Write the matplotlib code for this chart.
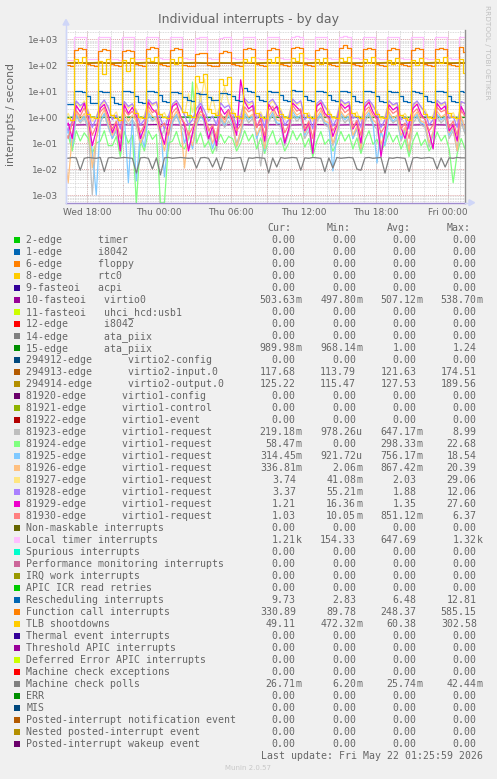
import numpy as np
import pandas as pd
import matplotlib
matplotlib.use('Agg')
import matplotlib.pyplot as plt
import matplotlib.dates as mdates
from matplotlib.ticker import LogLocator, FuncFormatter, NullFormatter, FixedLocator
from matplotlib.patches import Rectangle, Polygon
from matplotlib.lines import Line2D

W, H = 497, 779

# 20 minute samples, Wed 16:07 -> Fri 01:27
times = pd.date_range('2026-05-20 16:07', periods=101, freq='20min')
# hourly samples for the flat series
hours = pd.date_range('2026-05-20 16:00', periods=35, freq='h')

# flat series (hourly)
virtio0 = [0.51, 0.50, 0.51, 0.50, 0.51, 0.51, 0.50, 0.51, 0.52, 0.51, 0.50, 0.51,
           0.51, 0.50, 0.51, 0.51, 0.50, 0.51, 0.51, 0.50, 0.51, 0.52, 0.51, 0.50,
           0.51, 0.51, 0.50, 0.51, 0.51, 0.50, 0.51, 0.51, 0.50, 0.51, 0.50]
ata_piix15 = [1.00, 0.99, 1.01, 1.00, 0.99, 1.00, 1.01, 1.00, 0.99, 1.00, 1.01, 1.00,
              0.99, 1.00, 1.00, 1.01, 0.99, 1.00, 1.00, 1.01, 0.99, 1.00, 1.00, 1.01,
              1.00, 0.99, 1.00, 1.01, 1.00, 0.99, 1.00, 1.00, 1.01, 0.99, 0.99]
virtio2_in = [118, 121, 119, 122, 118, 121, 119, 122, 118, 120, 119, 121,
              118, 120, 119, 122, 118, 121, 119, 122, 118, 121, 119, 122,
              118, 121, 119, 122, 118, 121, 119, 122, 118, 120, 118]
virtio2_out = [124, 128, 125, 129, 124, 128, 125, 129, 124, 127, 125, 128,
               124, 127, 125, 129, 124, 128, 125, 129, 124, 128, 125, 129,
               124, 128, 125, 129, 124, 128, 125, 129, 124, 127, 125]

# 20 minute series
v81923 = [0.2, 0.4, 0.06, 1.1, 0.6, 0.9, 0.35, 0.001, 0.15, 0.6, 1.3, 0.4,
          0.15, 0.3, 0.04, 0.9, 0.5, 0.8, 0.45, 0.08, 0.2, 1.2, 0.7, 0.9,
          0.15, 0.35, 0.05, 0.6, 1.1, 0.5, 0.3, 0.06, 0.2, 0.5, 8.99, 0.4,
          0.12, 0.3, 0.05, 0.8, 0.4, 0.7, 0.4, 0.07, 0.2, 1.1, 0.6, 0.9,
          0.2, 0.013, 0.15, 0.7, 1.2, 0.5, 0.45, 0.08, 0.25, 1.2, 0.7, 1.0,
          0.15, 0.3, 0.05, 0.7, 1.1, 0.5, 0.4, 0.08, 0.2, 1.1, 0.6, 0.9,
          0.15, 0.35, 0.05, 0.7, 1.2, 0.5, 0.35, 0.06, 0.2, 1.0, 0.6, 0.8,
          0.12, 0.3, 0.04, 0.6, 1.0, 0.5, 0.4, 0.07, 0.2, 1.0, 0.6, 0.9,
          0.15, 0.3, 0.05, 0.6, 0.22]
v81924 = [0.1, 0.2, 0.05, 0.3, 0.12, 0.25, 0.15, 0.04, 0.1, 0.12, 0.3, 0.08,
          0.08, 0.18, 0.03, 0.28, 0.1, 0.2, 0.0005, 0.12, 0.05, 0.3, 0.14, 0.22,
          0.0005, 0.0005, 0.1, 0.12, 0.28, 0.08, 0.06, 0.15, 22.68, 0.1, 0.25, 0.07,
          0.12, 0.04, 0.09, 0.22, 0.1, 0.18, 0.15, 0.05, 0.1, 0.3, 0.12, 0.22,
          0.06, 0.16, 0.04, 0.14, 0.3, 0.09, 0.16, 0.05, 0.1, 0.3, 0.13, 0.24,
          0.07, 0.15, 0.03, 0.12, 0.28, 0.09, 0.14, 0.05, 0.1, 0.28, 0.12, 0.22,
          0.06, 0.16, 0.04, 0.13, 0.3, 0.09, 0.14, 0.05, 0.09, 0.26, 0.11, 0.2,
          0.06, 0.14, 0.03, 0.12, 0.26, 0.08, 0.14, 0.05, 0.09, 0.27, 0.12, 0.2,
          0.06, 0.003, 0.04, 0.15, 0.058]
v81925 = [0.15, 0.3, 0.08, 1.3, 0.7, 1.1, 0.5, 0.05, 0.001, 0.7, 1.4, 0.5,
          0.15, 0.35, 0.06, 1.1, 0.003, 0.9, 0.0035, 0.25, 0.07, 1.5, 0.8, 1.1,
          0.5, 0.005, 0.2, 0.7, 1.3, 0.5, 0.1, 0.3, 0.06, 0.5, 1.1, 0.7,
          0.35, 0.06, 0.2, 1.0, 0.5, 1.2, 0.5, 0.1, 0.25, 1.4, 0.8, 1.1,
          0.15, 0.4, 0.05, 0.8, 1.5, 0.6, 0.55, 0.1, 0.3, 1.6, 0.9, 1.2,
          0.2, 0.45, 0.05, 0.8, 1.4, 0.6, 0.5, 0.0085, 0.25, 1.4, 0.8, 1.1,
          0.15, 0.4, 0.06, 0.9, 1.5, 0.6, 0.017, 0.3, 0.08, 1.3, 0.7, 1.0,
          0.15, 0.35, 0.05, 0.8, 1.3, 0.6, 0.5, 0.1, 0.25, 1.3, 0.8, 1.0,
          0.2, 0.4, 0.05, 0.9, 0.31]
v81926 = [0.05, 0.003, 0.2, 1.6, 0.8, 1.4, 0.6, 0.011, 0.15, 1.0, 1.9, 0.6,
          0.2, 0.4, 0.05, 1.4, 0.7, 1.2, 0.7, 0.1, 0.25, 1.9, 1.1, 0.9,
          0.25, 0.05, 0.3, 0.9, 1.7, 0.7, 0.011, 0.3, 0.08, 0.6, 1.3, 0.9,
          0.4, 0.1, 0.25, 1.2, 0.6, 1.5, 0.6, 0.08, 0.3, 1.8, 1.0, 1.3,
          0.2, 0.45, 0.06, 1.1, 1.9, 0.8, 0.7, 0.12, 0.3, 2.0, 1.2, 1.5,
          0.25, 0.5, 0.05, 1.0, 1.8, 0.7, 0.6, 0.1, 0.3, 1.7, 1.0, 1.4,
          0.2, 0.45, 0.06, 1.2, 1.9, 0.8, 0.55, 0.09, 0.25, 1.6, 0.9, 1.2,
          0.2, 0.4, 0.05, 1.0, 1.6, 0.7, 0.6, 0.1, 0.28, 1.7, 1.0, 1.3,
          0.25, 0.45, 0.05, 1.1, 0.34]
v81927 = [0.8, 1.4, 0.6, 3.8, 2.4, 4.2, 1.9, 0.7, 1.1, 2.5, 4.0, 2.1,
          1.0, 1.6, 0.6, 3.6, 2.2, 3.0, 2.0, 0.8, 1.2, 4.4, 2.8, 3.6,
          1.1, 1.5, 0.7, 2.6, 4.1, 2.3, 1.2, 8.0, 1.5, 20.0, 4.0, 29.06,
          1.5, 6.0, 1.2, 3.0, 15.0, 3.5, 2.0, 0.8, 1.3, 4.5, 2.9, 3.8,
          1.0, 1.6, 0.7, 2.8, 4.3, 2.4, 2.1, 0.8, 1.2, 4.6, 3.0, 3.8,
          1.0, 1.5, 0.7, 2.7, 4.2, 2.3, 2.0, 0.8, 1.2, 4.4, 2.9, 3.6,
          1.1, 1.6, 0.7, 2.8, 4.3, 2.4, 1.9, 0.8, 1.1, 4.1, 2.7, 3.4,
          1.0, 1.4, 0.7, 2.6, 4.0, 2.2, 2.0, 0.8, 1.2, 4.3, 2.8, 3.5,
          1.0, 1.5, 0.7, 3.5, 3.74]
v81928 = [0.5, 0.3, 0.7, 4.2, 2.8, 3.6, 1.5, 0.4, 0.9, 3.0, 4.6, 2.4,
          0.8, 1.2, 0.35, 4.0, 2.6, 3.3, 1.6, 0.5, 0.8, 4.8, 3.2, 3.9,
          0.9, 0.35, 1.1, 3.2, 4.4, 2.5, 1.2, 0.5, 0.8, 2.2, 3.4, 1.8,
          0.7, 1.1, 0.5, 3.6, 2.3, 2.9, 1.4, 0.4, 0.9, 5.2, 3.6, 4.2,
          0.9, 1.3, 0.4, 3.8, 4.9, 2.8, 1.6, 0.5, 0.8, 5.0, 3.4, 4.3,
          0.8, 1.2, 0.35, 3.4, 4.6, 2.6, 1.5, 0.45, 0.9, 4.8, 3.3, 4.0,
          0.9, 1.1, 0.4, 3.5, 4.7, 2.9, 1.4, 0.4, 0.8, 4.3, 3.0, 3.6,
          0.8, 1.0, 0.35, 3.1, 4.2, 2.5, 1.5, 0.5, 0.8, 4.5, 3.2, 3.9,
          0.9, 1.1, 0.4, 4.0, 3.37]
v81929 = [0.35, 0.6, 0.15, 2.8, 1.6, 3.4, 0.9, 0.08, 0.3, 2.2, 3.1, 1.2,
          0.25, 0.6, 0.05, 3.0, 1.4, 2.4, 1.1, 0.15, 0.4, 3.8, 2.0, 1.5,
          0.3, 0.09, 0.6, 2.6, 3.4, 1.1, 0.5, 0.05, 0.25, 1.2, 2.6, 0.8,
          0.15, 0.45, 0.08, 2.4, 1.3, 2.0, 0.7, 0.2, 27.6, 4.0, 2.1, 2.8,
          0.4, 0.9, 0.12, 3.1, 1.8, 2.6, 0.8, 0.1, 0.35, 3.5, 2.4, 1.7,
          0.3, 0.6, 0.04, 2.7, 3.6, 1.4, 1.0, 0.18, 0.5, 3.3, 2.2, 2.9,
          0.35, 0.7, 0.1, 2.5, 3.8, 1.6, 0.9, 0.03, 0.3, 3.0, 1.9, 2.5,
          0.4, 0.15, 0.6, 2.2, 3.2, 1.3, 0.8, 0.25, 0.06, 3.4, 2.0, 2.7,
          0.3, 0.5, 0.12, 2.6, 1.21]
v81930 = [0.3, 0.15, 0.6, 1.8, 1.1, 2.3, 0.8, 0.2, 0.45, 1.6, 2.4, 0.9,
          0.35, 0.7, 0.15, 2.0, 1.2, 1.7, 0.9, 0.25, 0.5, 2.6, 1.5, 1.9,
          0.4, 0.6, 0.2, 1.5, 2.3, 1.0, 0.6, 0.2, 0.4, 0.9, 1.7, 1.2,
          0.3, 0.5, 0.15, 1.4, 0.8, 1.9, 0.9, 0.3, 0.5, 2.5, 1.6, 2.0,
          0.4, 0.8, 0.2, 1.9, 2.6, 1.2, 1.0, 0.25, 0.5, 2.8, 1.7, 2.1,
          0.35, 0.7, 0.15, 1.6, 2.3, 1.1, 0.9, 0.3, 0.55, 2.6, 1.5, 2.0,
          0.4, 0.75, 0.2, 1.8, 2.5, 1.2, 0.8, 0.25, 0.45, 2.2, 1.4, 1.8,
          0.35, 0.6, 0.15, 1.5, 2.1, 1.0, 0.85, 0.3, 0.5, 2.4, 1.6, 1.9,
          0.4, 0.7, 0.2, 1.8, 1.03]
loc_timer = [165, 160, 158, 1180, 1250, 1230, 180, 172, 168, 1210, 1270, 1240,
             178, 170, 166, 1190, 1240, 1220, 182, 175, 170, 1220, 1260, 1250,
             185, 176, 170, 1200, 1250, 1230, 186, 178, 172, 1150, 1210, 1190,
             184, 176, 172, 1170, 1230, 1200, 188, 180, 174, 1220, 1280, 1250,
             190, 182, 176, 1210, 1270, 1240, 188, 180, 175, 1230, 1290, 1250,
             186, 178, 174, 1200, 1260, 1230, 190, 182, 176, 1230, 1300, 1260,
             192, 184, 178, 1220, 1270, 1240, 188, 180, 175, 1210, 1260, 1230,
             186, 178, 174, 1200, 1250, 1230, 190, 182, 176, 1230, 1280, 1250,
             188, 180, 175, 1230, 1210]
resched = [3.4, 3.3, 3.3, 10.5, 10.0, 9.5, 6.5, 3.6, 3.4, 9.8, 9.5, 9.0,
           6.2, 3.5, 3.3, 10.2, 9.8, 9.2, 6.8, 3.8, 3.5, 10.5, 10.0, 9.6,
           7.0, 4.2, 3.8, 9.5, 9.0, 8.6, 6.0, 4.6, 4.2, 8.5, 8.0, 7.5,
           6.0, 4.8, 4.4, 8.8, 8.2, 7.8, 6.5, 4.5, 4.2, 12.8, 10.0, 9.5,
           6.8, 4.5, 4.3, 10.0, 9.6, 9.2, 7.0, 4.6, 4.3, 10.8, 10.2, 9.8,
           6.8, 4.5, 4.2, 10.2, 9.8, 9.4, 7.0, 4.4, 4.2, 10.5, 10.2, 9.6,
           6.6, 4.3, 4.0, 10.2, 9.8, 9.2, 6.5, 4.2, 3.9, 10.0, 9.6, 9.0,
           6.4, 4.1, 3.8, 9.8, 9.4, 8.8, 6.6, 4.2, 3.9, 10.2, 9.8, 9.4,
           6.5, 4.1, 3.8, 10.2, 9.73]
func_call = [108, 100, 96, 400, 475, 430, 110, 100, 95, 350, 410, 380,
             108, 99, 94, 340, 390, 360, 112, 102, 96, 440, 520, 470,
             110, 100, 95, 380, 450, 410, 104, 96, 92, 270, 305, 285,
             102, 95, 90, 300, 340, 320, 110, 100, 95, 410, 475, 440,
             108, 99, 94, 390, 450, 420, 112, 102, 96, 450, 520, 480,
             110, 100, 95, 390, 450, 420, 112, 102, 96, 450, 585, 470,
             110, 100, 95, 410, 475, 440, 108, 99, 94, 390, 450, 420,
             108, 99, 94, 390, 450, 415, 110, 100, 95, 410, 475, 440,
             108, 99, 94, 500, 330]
tlb = [1.1, 0.9, 0.8, 170, 120, 200, 1.3, 1.0, 0.9, 150, 45, 180,
       1.2, 0.9, 0.8, 160, 60, 190, 1.4, 1.0, 0.9, 190, 140, 210,
       1.3, 1.0, 0.9, 170, 110, 200, 1.6, 1.2, 1.0, 40, 22, 48,
       2.0, 1.5, 1.2, 30, 18, 35, 1.5, 1.1, 0.9, 180, 130, 210,
       1.4, 1.0, 0.9, 170, 120, 200, 1.3, 1.0, 0.9, 190, 150, 302,
       1.4, 1.0, 0.9, 170, 110, 195, 1.3, 1.0, 0.9, 185, 140, 215,
       1.4, 1.1, 0.9, 175, 120, 205, 1.3, 1.0, 0.9, 165, 110, 195,
       1.2, 0.9, 0.8, 160, 100, 190, 1.3, 1.0, 0.9, 175, 120, 200,
       1.4, 1.0, 0.9, 170, 49]
mce_polls = [0.027, 0.026, 0.028, 0.027, 0.009, 0.026, 0.028, 0.027, 0.026, 0.028, 0.008, 0.027,
             0.028, 0.026, 0.027, 0.028, 0.027, 0.026, 0.007, 0.027, 0.028, 0.026, 0.010, 0.027,
             0.006, 0.027, 0.028, 0.026, 0.027, 0.028, 0.027, 0.026, 0.027, 0.011, 0.027, 0.028,
             0.026, 0.012, 0.027, 0.009, 0.028, 0.027, 0.026, 0.027, 0.028, 0.008, 0.027, 0.026,
             0.028, 0.027, 0.026, 0.007, 0.027, 0.012, 0.028, 0.026, 0.027, 0.028, 0.027, 0.009,
             0.027, 0.026, 0.028, 0.027, 0.026, 0.008, 0.027, 0.011, 0.028, 0.026, 0.027, 0.028,
             0.027, 0.010, 0.009, 0.027, 0.028, 0.026, 0.027, 0.028, 0.007, 0.027, 0.026, 0.028,
             0.027, 0.026, 0.008, 0.027, 0.028, 0.026, 0.027, 0.028, 0.026, 0.010, 0.027, 0.012,
             0.027, 0.026, 0.028, 0.027, 0.027]

yticks = [1e-3, 1e-2, 1e-1, 1, 10, 100, 1000]

# legend
labels = ['2-edge      timer', '1-edge      i8042', '6-edge      floppy', '8-edge      rtc0',
          '9-fasteoi   acpi', '10-fasteoi   virtio0', '11-fasteoi   uhci_hcd:usb1',
          '12-edge      i8042', '14-edge      ata_piix', '15-edge      ata_piix',
          '294912-edge      virtio2-config', '294913-edge      virtio2-input.0',
          '294914-edge      virtio2-output.0', '81920-edge      virtio1-config',
          '81921-edge      virtio1-control', '81922-edge      virtio1-event',
          '81923-edge      virtio1-request', '81924-edge      virtio1-request',
          '81925-edge      virtio1-request', '81926-edge      virtio1-request',
          '81927-edge      virtio1-request', '81928-edge      virtio1-request',
          '81929-edge      virtio1-request', '81930-edge      virtio1-request',
          'Non-maskable interrupts', 'Local timer interrupts', 'Spurious interrupts',
          'Performance monitoring interrupts', 'IRQ work interrupts', 'APIC ICR read retries',
          'Rescheduling interrupts', 'Function call interrupts', 'TLB shootdowns',
          'Thermal event interrupts', 'Threshold APIC interrupts', 'Deferred Error APIC interrupts',
          'Machine check exceptions', 'Machine check polls', 'ERR', 'MIS',
          'Posted-interrupt notification event', 'Nested posted-interrupt event',
          'Posted-interrupt wakeup event']
palette = ['#00CC00', '#0066B3', '#FF8000', '#FFCC00', '#330099', '#990099', '#CCFF00',
           '#FF0000', '#808080', '#008F00', '#00487D', '#B35A00', '#B38F00', '#6B006B',
           '#8FB300', '#B30000', '#BEBEBE', '#80FF80', '#80C9FF', '#FFC080', '#FFE680',
           '#AA80FF', '#EE00CC', '#FF8080', '#666600', '#FFBFFF', '#00FFCC', '#CC6699',
           '#999900']
colors = [palette[i % len(palette)] for i in range(len(labels))]

z = '0.00'
cur = [z, z, z, z, z, '503.63m', z, z, z, '989.98m', z, '117.68', '125.22', z, z, z,
       '219.18m', '58.47m', '314.45m', '336.81m', '3.74', '3.37', '1.21', '1.03',
       z, '1.21k', z, z, z, z, '9.73', '330.89', '49.11', z, z, z, z, '26.71m', z, z, z, z, z]
mins = [z, z, z, z, z, '497.80m', z, z, z, '968.14m', z, '113.79', '115.47', z, z, z,
        '978.26u', '0.00', '921.72u', '2.06m', '41.08m', '55.21m', '16.36m', '10.05m',
        z, '154.33', z, z, z, z, '2.83', '89.78', '472.32m', z, z, z, z, '6.20m', z, z, z, z, z]
avgs = [z, z, z, z, z, '507.12m', z, z, z, '1.00', z, '121.63', '127.53', z, z, z,
        '647.17m', '298.33m', '756.17m', '867.42m', '2.03', '1.88', '1.35', '851.12m',
        z, '647.69', z, z, z, z, '6.48', '248.37', '60.38', z, z, z, z, '25.74m', z, z, z, z, z]
maxs = [z, z, z, z, z, '538.70m', z, z, z, '1.24', z, '174.51', '189.56', z, z, z,
        '8.99', '22.68', '18.54', '20.39', '29.06', '12.06', '27.60', '6.37',
        z, '1.32k', z, z, z, z, '12.81', '585.15', '302.58', z, z, z, z, '42.44m', z, z, z, z, z]

TXT = '#666666'


def fx(x):
    return x / W


def fy(y):
    return 1 - y / H


fig = plt.figure(figsize=(W / 100, H / 100), dpi=100, facecolor='#F0F0F0')
ax = fig.add_axes([fx(66), fy(202.7), (465 - 66) / W, (202.7 - 30) / H])
ax.set_facecolor('white')
ax.set_yscale('log')
ax.set_ylim(5.06e-4, 2290)
t0 = pd.Timestamp('2026-05-20 16:16')
t1 = pd.Timestamp('2026-05-22 01:26')
ax.set_xlim(t0, t1)

# grid
ax.yaxis.set_major_locator(FixedLocator(yticks))
ax.yaxis.set_minor_locator(LogLocator(base=10, subs=np.arange(2, 10), numticks=20))
ax.yaxis.set_major_formatter(FuncFormatter(lambda v, p: f'{v:.0e}'))
ax.yaxis.set_minor_formatter(NullFormatter())
ax.xaxis.set_major_locator(mdates.HourLocator(byhour=[0, 6, 12, 18]))
ax.xaxis.set_major_formatter(mdates.DateFormatter('%a %H:%M'))
ax.xaxis.set_minor_locator(mdates.HourLocator())
ax.xaxis.set_minor_formatter(NullFormatter())
ax.grid(which='minor', color='#D0D0D0', linestyle=(0, (1, 1)), linewidth=0.6)
ax.grid(which='major', axis='y', color='#DDA8A8', linestyle=(0, (1, 1)), linewidth=0.7)
ax.grid(which='major', axis='x', color='#D0D0D0', linestyle=(0, (1, 1)), linewidth=0.6)
for t in pd.date_range('2026-05-20 18:00', '2026-05-22 00:00', freq='3h'):
    ax.axvline(t, color='#DDA8A8', linestyle=(0, (1, 1)), linewidth=0.7, zorder=0.5)
ax.set_axisbelow(True)

ax.tick_params(axis='both', which='both', length=0, labelsize=6.5, labelcolor=TXT)
ax.tick_params(axis='y', pad=5.5)
ax.tick_params(axis='x', pad=4)
ax.spines['top'].set_visible(False)
ax.spines['left'].set_color('#CFD6F8')
ax.spines['bottom'].set_color('#A08CD0')
ax.spines['right'].set_color('#909090')
for s in ['left', 'bottom', 'right']:
    ax.spines[s].set_linewidth(1.0)

# series, drawn in munin order
lw = 0.9
ax.plot(hours, virtio0, color='#990099', lw=lw)
ax.plot(hours, ata_piix15, color='#008F00', lw=lw)
ax.plot(hours, virtio2_in, color='#B35A00', lw=lw)
ax.plot(hours, virtio2_out, color='#B38F00', lw=lw)
for vals, c in [(v81923, '#BEBEBE'), (v81924, '#80FF80'), (v81925, '#80C9FF'),
                (v81926, '#FFC080'), (v81927, '#FFE680'), (v81928, '#AA80FF'),
                (v81929, '#EE00CC'), (v81930, '#FF8080')]:
    ax.plot(times, vals, color=c, lw=lw)
ax.plot(times, loc_timer, color='#FFBFFF', lw=lw, drawstyle='steps-mid')
ax.plot(times, resched, color='#0066B3', lw=lw, drawstyle='steps-mid')
ax.plot(times, func_call, color='#FF8000', lw=lw, drawstyle='steps-mid')
ax.plot(times, tlb, color='#FFCC00', lw=lw, drawstyle='steps-mid')
ax.plot(times, mce_polls, color='#808080', lw=lw)

# axis arrows
fig.add_artist(Line2D([fx(66), fx(66)], [fy(202.7), fy(24)], color='#CFD6F8', lw=1.0))
fig.add_artist(Polygon([[fx(66), fy(19.5)], [fx(63), fy(25)], [fx(69), fy(25)]],
                       closed=True, color='#CFD6F8', transform=fig.transFigure))
fig.add_artist(Line2D([fx(465), fx(469)], [fy(202.7), fy(202.7)], color='#CFD6F8', lw=1.0))
fig.add_artist(Polygon([[fx(474.5), fy(202.7)], [fx(469), fy(199.7)], [fx(469), fy(205.7)]],
                       closed=True, color='#CFD6F8', transform=fig.transFigure))

# titles
fig.text(fx(248), fy(19), 'Individual interrupts - by day', ha='center', va='center',
         fontsize=9, color=TXT)
fig.text(fx(11), fy(115), 'interrupts / second', rotation=90, ha='center', va='center',
         fontsize=7.8, color=TXT)
fig.text(fx(487), fy(52.5), 'RRDTOOL / TOBI OETIKER', rotation=270, ha='center', va='center',
         fontsize=5.3, color='#C0C0C0')

# legend
mono = 'DejaVu Sans Mono'
fs = 7.15
col_right = [295.8, 356.2, 416.5, 476.8]
for name, xl in zip(['Cur:', 'Min:', 'Avg:', 'Max:'], [267, 327, 387, 447]):
    fig.text(fx(xl), fy(227.7 + 3.5), name, family=mono, fontsize=fs, color=TXT,
             ha='left', va='baseline')

for j, lab in enumerate(labels):
    y = 239.7 + 12 * j
    fig.add_artist(Rectangle((fx(14), fy(y + 3)), 6 / W, 6 / H, transform=fig.transFigure,
                             facecolor=colors[j], edgecolor='none'))
    fig.text(fx(26.3), fy(y + 3.5), lab, family=mono, fontsize=fs, color=TXT,
             ha='left', va='baseline')
    for val, xr in zip([cur[j], mins[j], avgs[j], maxs[j]], col_right):
        num, suf = (val[:-1], val[-1]) if val[-1] in 'mku' else (val, '')
        fig.text(fx(xr), fy(y + 3.5), num, family=mono, fontsize=fs, color=TXT,
                 ha='right', va='baseline')
        if suf:
            fig.text(fx(xr), fy(y + 3.5), suf, family=mono, fontsize=fs, color=TXT,
                     ha='left', va='baseline')

fig.text(fx(482.7), fy(755.3 + 3.5), 'Last update: Fri May 22 01:25:59 2026', family=mono,
         fontsize=fs, color=TXT, ha='right', va='baseline')
fig.text(fx(248), fy(768.3), 'Munin 2.0.57', ha='center', va='center', fontsize=5,
         color='#C8C8C8')

fig.savefig('out.png', dpi=100, facecolor=fig.get_facecolor())
